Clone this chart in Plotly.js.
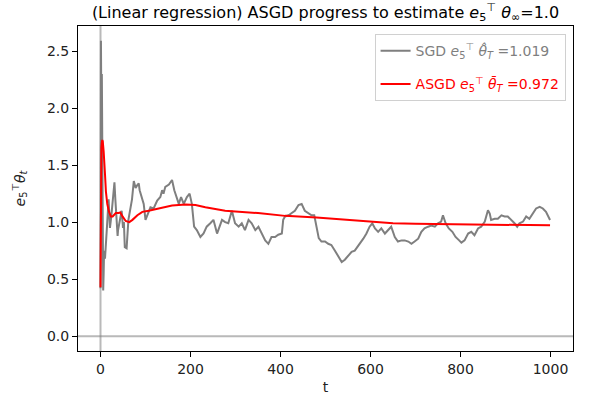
<!DOCTYPE html>
<html>
<head>
<meta charset="utf-8">
<script src="https://cdn.plot.ly/plotly-3.0.1.min.js"></script>
<style>html,body{margin:0;padding:0;background:#fff;}#chart{width:596px;height:400px;}</style>
</head>
<body>
<div id="chart"></div>
<script>
// SGD iterate e5^T theta_t
const sgdT = [0,1,2,3,4,5,6,7,8,10,13,15,18,21,24,28,31,33,35,38,39,43,47,50,52,54,58,62,66,70,74,78,81,85,87,92,96,100,103,107,111,118,126,133,137,140,144,152,159,164,169,174,179,185,192,198,203,206,208,214,222,229,236,244,251,259,262,270,277,284,292,299,307,314,321,329,336,344,351,358,366,373,380,388,395,403,406,410,418,425,432,440,447,454,462,469,475,480,485,491,499,506,513,521,528,536,543,550,558,565,569,576,584,591,598,604,610,617,624,632,639,646,654,661,669,676,684,691,698,706,713,720,728,735,743,750,757,761,767,774,782,789,797,802,809,817,824,831,839,846,854,861,865,868,876,883,891,898,905,913,920,926,931,939,946,953,961,968,976,983,990,996,999];
const sgdVal = [0.42,2.59,1.9,2.3,1.5,1.1,0.40,0.55,0.75,0.68,0.95,1.0,1.2,0.95,1.05,1.22,1.35,1.2,1.05,0.88,0.93,1.02,1.1,0.95,1.0,0.78,0.77,1.02,1.10,1.2,1.36,1.30,1.32,1.34,1.28,1.22,1.16,1.02,1.05,1.10,1.13,1.12,1.19,1.22,1.28,1.25,1.31,1.33,1.37,1.28,1.22,1.16,1.22,1.16,1.22,1.25,1.16,1.0,0.96,0.93,0.87,0.90,0.96,0.99,1.02,0.90,0.93,1.02,1.00,0.99,1.10,0.99,0.96,0.99,0.93,1.02,0.99,0.93,0.96,0.90,0.84,0.81,0.87,0.87,0.89,0.90,1.02,1.05,1.06,1.08,1.10,1.15,1.16,1.10,1.08,1.06,1.06,0.96,0.86,0.83,0.83,0.81,0.80,0.75,0.70,0.65,0.67,0.70,0.74,0.75,0.77,0.81,0.855,0.90,0.96,0.99,0.945,0.915,0.945,0.90,0.93,0.96,0.87,0.83,0.84,0.84,0.83,0.81,0.83,0.855,0.915,0.945,0.96,0.97,0.96,0.99,1.005,1.06,0.99,0.945,0.915,0.87,0.84,0.82,0.84,0.90,0.915,0.885,0.945,0.96,1.005,1.105,1.075,1.02,1.03,1.03,1.06,1.05,1.05,1.02,0.99,0.96,0.99,1.005,1.05,1.03,1.075,1.12,1.135,1.12,1.09,1.05,1.019];

// ASGD averaged iterate e5^T bar-theta_t
const asgdT = [0,1,2,3,4,5,7,9,10,12,15,19,23,27,34,40,44,49,56,64,71,82,93,107,129,159,189,211,233,277,350,410,480,530,565,600,650,700,750,800,850,900,950,999];
const asgdVal = [0.43,1.5,1.65,1.7,1.72,1.71,1.62,1.52,1.42,1.27,1.16,1.09,1.05,1.05,1.08,1.08,1.085,1.05,1.01,1.0,1.02,1.06,1.09,1.10,1.12,1.145,1.155,1.15,1.13,1.10,1.08,1.055,1.04,1.025,1.01,1.0,0.99,0.985,0.983,0.98,0.978,0.976,0.974,0.972];

const xTicks = [0,200,400,600,800,1000];
const yTicks = [0.0,0.5,1.0,1.5,2.0,2.5];

const sgdName = '<span style="color:#7f7f7f">SGD <i>e</i><sub>5</sub><sup>⊤</sup> <i>θ̂</i><sub><i>T</i></sub> =1.019</span>';
const asgdName = '<span style="color:#ff0000">ASGD <i>e</i><sub>5</sub><sup>⊤</sup> <i>θ̄</i><sub><i>T</i></sub> =0.972</span>';

const traces = [
  {x: sgdT, y: sgdVal, type: 'scatter', mode: 'lines', name: sgdName, legendgroup: 'sgd',
   line: {color: '#7f7f7f', width: 2}},
  {x: asgdT, y: asgdVal, type: 'scatter', mode: 'lines', name: asgdName, legendgroup: 'asgd',
   line: {color: '#ff0000', width: 2}}
];

const font = 'DejaVu Sans, sans-serif';
const layout = {
  width: 596, height: 400,
  margin: {l: 77.5, r: 22.5, t: 26, b: 49, pad: 0},
  paper_bgcolor: '#fff', plot_bgcolor: '#fff',
  font: {family: font, size: 14, color: '#000'},
  title: {text: '(Linear regression) ASGD progress to estimate <i>e</i><sub>5</sub><sup>⊤</sup> <i>θ</i><sub>∞</sub>=1.0',
          font: {family: font, size: 16, color: '#000'},
          x: 0.5, xref: 'paper', xanchor: 'center', y: 0.97, yref: 'container', yanchor: 'middle'},
  xaxis: {range: [-50, 1050], tickvals: xTicks, ticktext: xTicks.map(String),
          ticks: 'outside', ticklen: 5, tickwidth: 1, tickcolor: '#000',
          showline: true, linecolor: '#000', linewidth: 1, mirror: true,
          showgrid: false, zeroline: false,
          tickfont: {family: font, size: 14, color: '#222'},
          title: {text: 't', font: {family: font, size: 14, color: '#222'}, standoff: 6}},
  yaxis: {range: [-0.13, 2.72], tickvals: yTicks, ticktext: yTicks.map(v => v.toFixed(1)),
          ticks: 'outside', ticklen: 5, tickwidth: 1, tickcolor: '#000',
          showline: true, linecolor: '#000', linewidth: 1, mirror: true,
          showgrid: false, zeroline: false,
          tickfont: {family: font, size: 14, color: '#222'},
          title: {text: '<i>e</i><sub>5</sub><sup>⊤</sup><i>θ</i><sub><i>t</i></sub>', font: {family: font, size: 14, color: '#222'}, standoff: 18}},
  legend: {x: 0.985, y: 0.975, xanchor: 'right', yanchor: 'top',
           traceorder: 'grouped', tracegroupgap: 12,
           bgcolor: 'rgba(255,255,255,0.8)', bordercolor: '#d0d0d0', borderwidth: 1,
           font: {family: font, size: 14}, itemwidth: 30},
  showlegend: true,
  shapes: [
    {type: 'line', xref: 'paper', x0: 0, x1: 1, yref: 'y', y0: 0, y1: 0,
     line: {color: 'rgba(128,128,128,0.55)', width: 2}, layer: 'below'},
    {type: 'line', xref: 'x', x0: 0, x1: 0, yref: 'paper', y0: 0, y1: 1,
     line: {color: 'rgba(128,128,128,0.55)', width: 2}, layer: 'below'}
  ]
};

Plotly.newPlot('chart', traces, layout, {displayModeBar: false, staticPlot: true});
</script>
</body>
</html>
